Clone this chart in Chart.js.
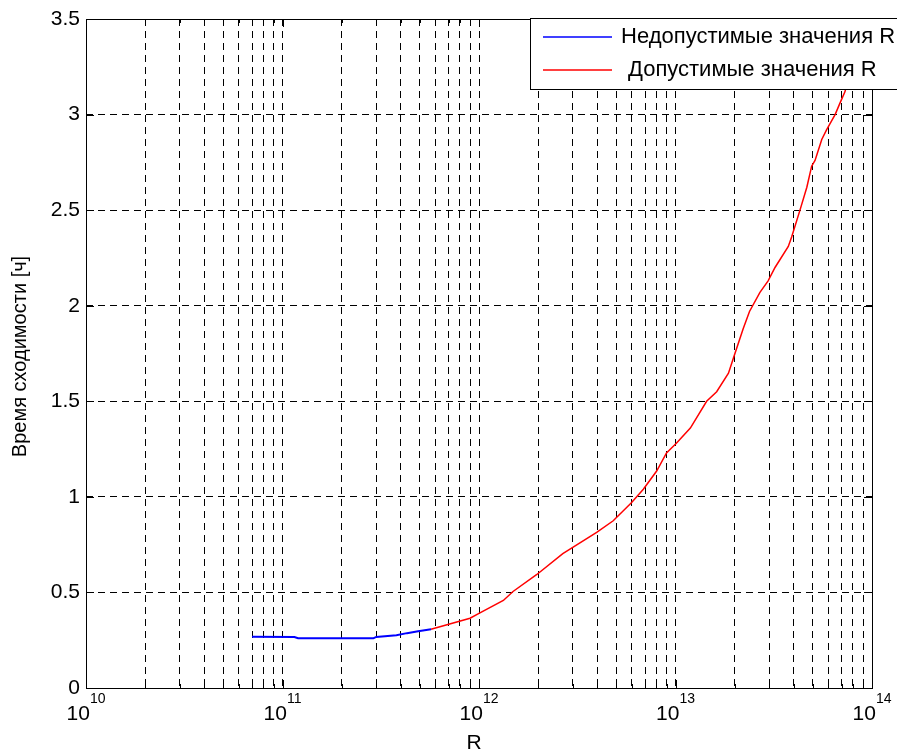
<!DOCTYPE html>
<html>
<head>
<meta charset="utf-8">
<script src="https://cdn.jsdelivr.net/npm/chart.js@4/dist/chart.umd.min.js"></script>
<style>
  body { margin: 0; background: #fff; }
  canvas { display: block; }
</style>
</head>
<body>
<canvas id="myChart" width="897" height="755"></canvas>
<script>
// R values and convergence time (hours)
const blueR = [7.0e10, 1.15e11, 1.2e11, 2.9e11, 3.0e11, 3.8e11, 4.3e11, 4.9e11, 5.7e11];
const blueT = [0.268, 0.267, 0.260, 0.260, 0.267, 0.276, 0.287, 0.297, 0.307];

const redR = [5.7e11, 9.0e11, 1.0e12, 1.33e12, 1.49e12, 1.97e12, 2.67e12, 3.97e12, 4.82e12,
    5.98e12, 6.86e12, 8.02e12, 9.0e12, 1.01e13, 1.19e13, 1.44e13, 1.62e13, 1.86e13, 1.97e13,
    2.21e13, 2.38e13, 2.69e13, 2.96e13, 3.21e13, 3.75e13, 3.9e13, 4.3e13, 4.66e13, 4.93e13,
    5.13e13, 5.55e13, 5.87e13, 6.49e13, 6.87e13, 7.29e13, 7.6e13];
const redT = [0.307, 0.365, 0.39, 0.458, 0.505, 0.594, 0.703, 0.814, 0.875,
    0.97, 1.04, 1.135, 1.23, 1.28, 1.36, 1.50, 1.55, 1.647, 1.725,
    1.88, 1.97, 2.07, 2.13, 2.20, 2.31, 2.36, 2.50, 2.62, 2.73,
    2.76, 2.87, 2.92, 3.0, 3.06, 3.12, 3.2];

const xDecades = [10, 11, 12, 13, 14];
const yTicks = [0, 0.5, 1, 1.5, 2, 2.5, 3, 3.5];
const yTickLabels = ['0', '0.5', '1', '1.5', '2', '2.5', '3', '3.5'];

const seriesNames = ['Недопустимые значения R', 'Допустимые значения R'];
const seriesColors = ['#0000ff', '#ff0000'];
const xTitle = 'R';
const yTitle = 'Время сходимости [ч]';

const FONT = 'Arial, "Liberation Sans", sans-serif';

function toPoints(xs, ys) {
    return xs.map((x, i) => ({ x: x, y: ys[i] }));
}

// every tick of a log axis: 1..9 times each decade
function logTicks() {
    let ticks = [];
    for (let i = 0; i < xDecades.length - 1; i++) {
        for (let m = 1; m <= 9; m++) {
            ticks.push({ value: m * Math.pow(10, xDecades[i]), major: m == 1 });
        }
    }
    ticks.push({ value: Math.pow(10, xDecades[xDecades.length - 1]), major: true });
    return ticks;
}

const matlabAxes = {
    id: 'matlabAxes',
    afterDraw(chart) {
        const ctx = chart.ctx;
        const area = chart.chartArea;
        const xs = chart.scales.x;
        const ys = chart.scales.y;

        ctx.save();
        ctx.setLineDash([]);
        ctx.strokeStyle = '#000';
        ctx.lineWidth = 1;

        // inner tick marks on all four sides
        ctx.beginPath();
        logTicks().forEach(t => {
            const px = Math.round(xs.getPixelForValue(t.value)) + 0.5;
            const len = t.major ? 8 : 4;
            ctx.moveTo(px, area.bottom);
            ctx.lineTo(px, area.bottom - len);
            ctx.moveTo(px, area.top);
            ctx.lineTo(px, area.top + len);
        });
        yTicks.forEach(v => {
            const py = Math.round(ys.getPixelForValue(v)) + 0.5;
            ctx.moveTo(area.left, py);
            ctx.lineTo(area.left + 8, py);
            ctx.moveTo(area.right, py);
            ctx.lineTo(area.right - 8, py);
        });
        ctx.stroke();

        // axes box
        ctx.strokeRect(Math.round(area.left) + 0.5, Math.round(area.top) + 0.5,
            Math.round(area.right - area.left), Math.round(area.bottom - area.top));

        ctx.fillStyle = '#000';

        // y tick labels
        ctx.font = '21px ' + FONT;
        ctx.textAlign = 'right';
        ctx.textBaseline = 'middle';
        yTicks.forEach((v, i) => {
            ctx.fillText(yTickLabels[i], area.left - 6, ys.getPixelForValue(v));
        });

        // x tick labels: 10 with a raised exponent
        ctx.textAlign = 'left';
        xDecades.forEach(k => {
            const px = xs.getPixelForValue(Math.pow(10, k));
            ctx.font = '21px ' + FONT;
            const wBase = ctx.measureText('10').width;
            ctx.font = '14px ' + FONT;
            const wExp = ctx.measureText(String(k)).width;
            const x0 = px - (wBase + wExp) / 2;
            ctx.font = '21px ' + FONT;
            ctx.fillText('10', x0, area.bottom + 26);
            ctx.font = '14px ' + FONT;
            ctx.fillText(String(k), x0 + wBase, area.bottom + 11);
        });

        // axis titles
        ctx.font = '21px ' + FONT;
        ctx.textAlign = 'center';
        ctx.fillText(xTitle, 474, area.bottom + 55);

        ctx.save();
        ctx.translate(20, (area.top + area.bottom) / 2 + 3);
        ctx.rotate(-Math.PI / 2);
        ctx.font = '20px ' + FONT;
        ctx.fillText(yTitle, 0, 0);
        ctx.restore();

        // legend box
        const lx = 530.5, ly = 18.5, lw = 400, lh = 71;
        ctx.fillStyle = '#fff';
        ctx.fillRect(lx, ly, lw, lh);
        ctx.strokeRect(lx, ly, lw, lh);

        const rows = [37, 70];
        const textX = [621, 628];
        ctx.font = '22px ' + FONT;
        ctx.textAlign = 'left';
        seriesNames.forEach((name, i) => {
            ctx.strokeStyle = seriesColors[i];
            ctx.lineWidth = 1.5;
            ctx.beginPath();
            ctx.moveTo(543, rows[i]);
            ctx.lineTo(612, rows[i]);
            ctx.stroke();
            ctx.fillStyle = '#000';
            ctx.fillText(name, textX[i], rows[i]);
        });

        ctx.restore();
    }
};

const ctx = document.getElementById('myChart').getContext('2d');
const myChart = new Chart(ctx, {
    type: 'line',
    data: {
        datasets: [{
            label: seriesNames[0],
            data: toPoints(blueR, blueT),
            borderColor: seriesColors[0],
            borderWidth: 2,
            pointRadius: 0,
            tension: 0
        }, {
            label: seriesNames[1],
            data: toPoints(redR, redT),
            borderColor: seriesColors[1],
            borderWidth: 1.5,
            pointRadius: 0,
            tension: 0
        }]
    },
    options: {
        responsive: false,
        animation: false,
        devicePixelRatio: 1,
        layout: {
            padding: { left: 86, top: 19, right: 25, bottom: 67 }
        },
        plugins: {
            legend: { display: false },
            tooltip: { enabled: false }
        },
        scales: {
            x: {
                type: 'logarithmic',
                min: 1e10,
                max: 1e14,
                afterBuildTicks: scale => { scale.ticks = logTicks(); },
                ticks: { display: false },
                grid: { color: '#000', lineWidth: 1, drawTicks: false },
                border: { display: false, dash: [7, 5] }
            },
            y: {
                type: 'linear',
                min: 0,
                max: 3.5,
                afterBuildTicks: scale => { scale.ticks = yTicks.map(v => ({ value: v })); },
                ticks: { display: false },
                grid: { color: '#000', lineWidth: 1, drawTicks: false },
                border: { display: false, dash: [7, 5] }
            }
        }
    },
    plugins: [matlabAxes]
});
</script>
</body>
</html>
